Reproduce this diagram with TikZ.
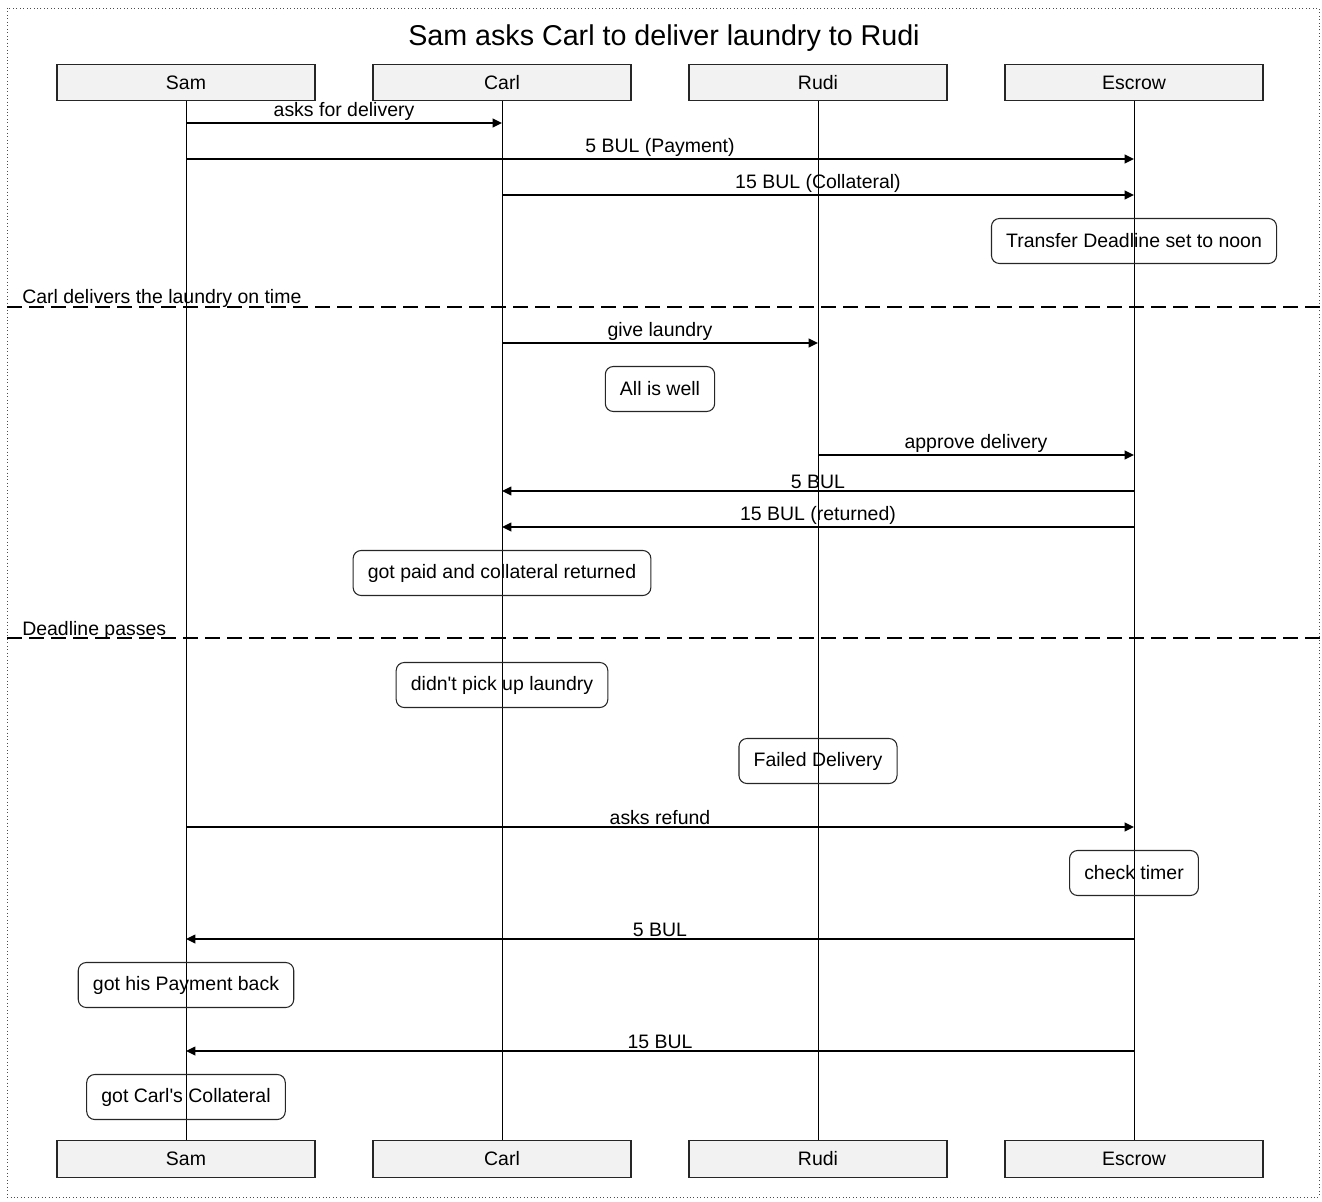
\documentclass[tikz,border=0pt]{standalone}
\usepackage{fontspec}
\setmainfont{Liberation Sans}
\usetikzlibrary{arrows.meta}
\begin{document}
\begin{tikzpicture}[x=0.75pt,y=-0.75pt,
  every node/.style={font=\fontsize{14.6}{17}\selectfont},
  actor/.style={draw=black!85, fill=black!5, line width=0.9pt, minimum width=193.5pt, minimum height=27.5pt, inner sep=0pt},
  life/.style={line width=0.75pt},
  msg/.style={line width=1.1pt, -{Triangle[length=7pt,width=6.5pt]}},
  mlabel/.style={inner sep=0pt, anchor=base},
  note/.style={draw=black!85, line width=0.8pt, rounded corners=6pt, minimum height=33.75pt, inner xsep=11pt, inner ysep=0pt},
  divider/.style={line width=1.4pt, dash pattern=on 11pt off 5.5pt},
  dlabel/.style={inner sep=0pt, anchor=base west}]
\useasboundingbox (0,0) rectangle (1322,1202);
% outer frame
\draw[black!70, line width=0.6pt, dotted] (7,8) rectangle (1319,1197);
% title
\node[font=\fontsize{21.5}{25}\selectfont] (title) at (664,38) {Sam asks Carl to deliver laundry to Rudi};

% participant heads and feet
\node[actor] (samT) at (186,82.5) {Sam};
\node[actor] (carlT) at (502,82.5) {Carl};
\node[actor] (rudiT) at (818,82.5) {Rudi};
\node[actor] (escT) at (1134,82.5) {Escrow};
\node[actor] (samB) at (186,1159) {Sam};
\node[actor] (carlB) at (502,1159) {Carl};
\node[actor] (rudiB) at (818,1159) {Rudi};
\node[actor] (escB) at (1134,1159) {Escrow};

% lifelines
\draw[life] (samT) -- (samB);
\draw[life] (carlT) -- (carlB);
\draw[life] (rudiT) -- (rudiB);
\draw[life] (escT) -- (escB);

% message rows
\coordinate (r1) at (0,123);
\coordinate (r2) at (0,159);
\coordinate (r3) at (0,195);
\coordinate (r5) at (0,343);
\coordinate (r7) at (0,455);
\coordinate (r8) at (0,491);
\coordinate (r9) at (0,527);
\coordinate (r13) at (0,827);
\coordinate (r15) at (0,939);
\coordinate (r17) at (0,1051);

\draw[msg] (samT |- r1) -- node[mlabel, above=1pt] {asks for delivery} (carlT |- r1);
\draw[msg] (samT |- r2) -- node[mlabel, above=1pt] {5 BUL (Payment)} (escT |- r2);
\draw[msg] (carlT |- r3) -- node[mlabel, above=1pt] {15 BUL (Collateral)} (escT |- r3);
\node[note] (n1) at (1134,241) {Transfer Deadline set to noon};

% first outcome
\coordinate (d1a) at (7,307);
\coordinate (d1b) at (1322,307);
\draw[divider] (d1a) -- (d1b);
\node[dlabel] (d1t) at (22,304) {Carl delivers the laundry on time};

\draw[msg] (carlT |- r5) -- node[mlabel, above=1pt] {give laundry} (rudiT |- r5);
\node[note] (n2) at (660,389) {All is well};
\draw[msg] (rudiT |- r7) -- node[mlabel, above=1pt] {approve delivery} (escT |- r7);
\draw[msg] (escT |- r8) -- node[mlabel, above=1pt] {5 BUL} (carlT |- r8);
\draw[msg] (escT |- r9) -- node[mlabel, above=1pt] {15 BUL (returned)} (carlT |- r9);
\node[note] (n3) at (502,573) {got paid and collateral returned};

% second outcome
\coordinate (d2a) at (7,638);
\coordinate (d2b) at (1322,638);
\draw[divider] (d2a) -- (d2b);
\node[dlabel] (d2t) at (22,635) {Deadline passes};

\node[note] (n4) at (502,685) {didn\textquotesingle t pick up laundry};
\node[note] (n5) at (818,761) {Failed Delivery};
\draw[msg] (samT |- r13) -- node[mlabel, above=1pt] {asks refund} (escT |- r13);
\node[note] (n6) at (1134,873) {check timer};
\draw[msg] (escT |- r15) -- node[mlabel, above=1pt] {5 BUL} (samT |- r15);
\node[note] (n7) at (186,985) {got his Payment back};
\draw[msg] (escT |- r17) -- node[mlabel, above=1pt] {15 BUL} (samT |- r17);
\node[note] (n8) at (186,1097) {got Carl\textquotesingle s Collateral};
\end{tikzpicture}
\end{document}
